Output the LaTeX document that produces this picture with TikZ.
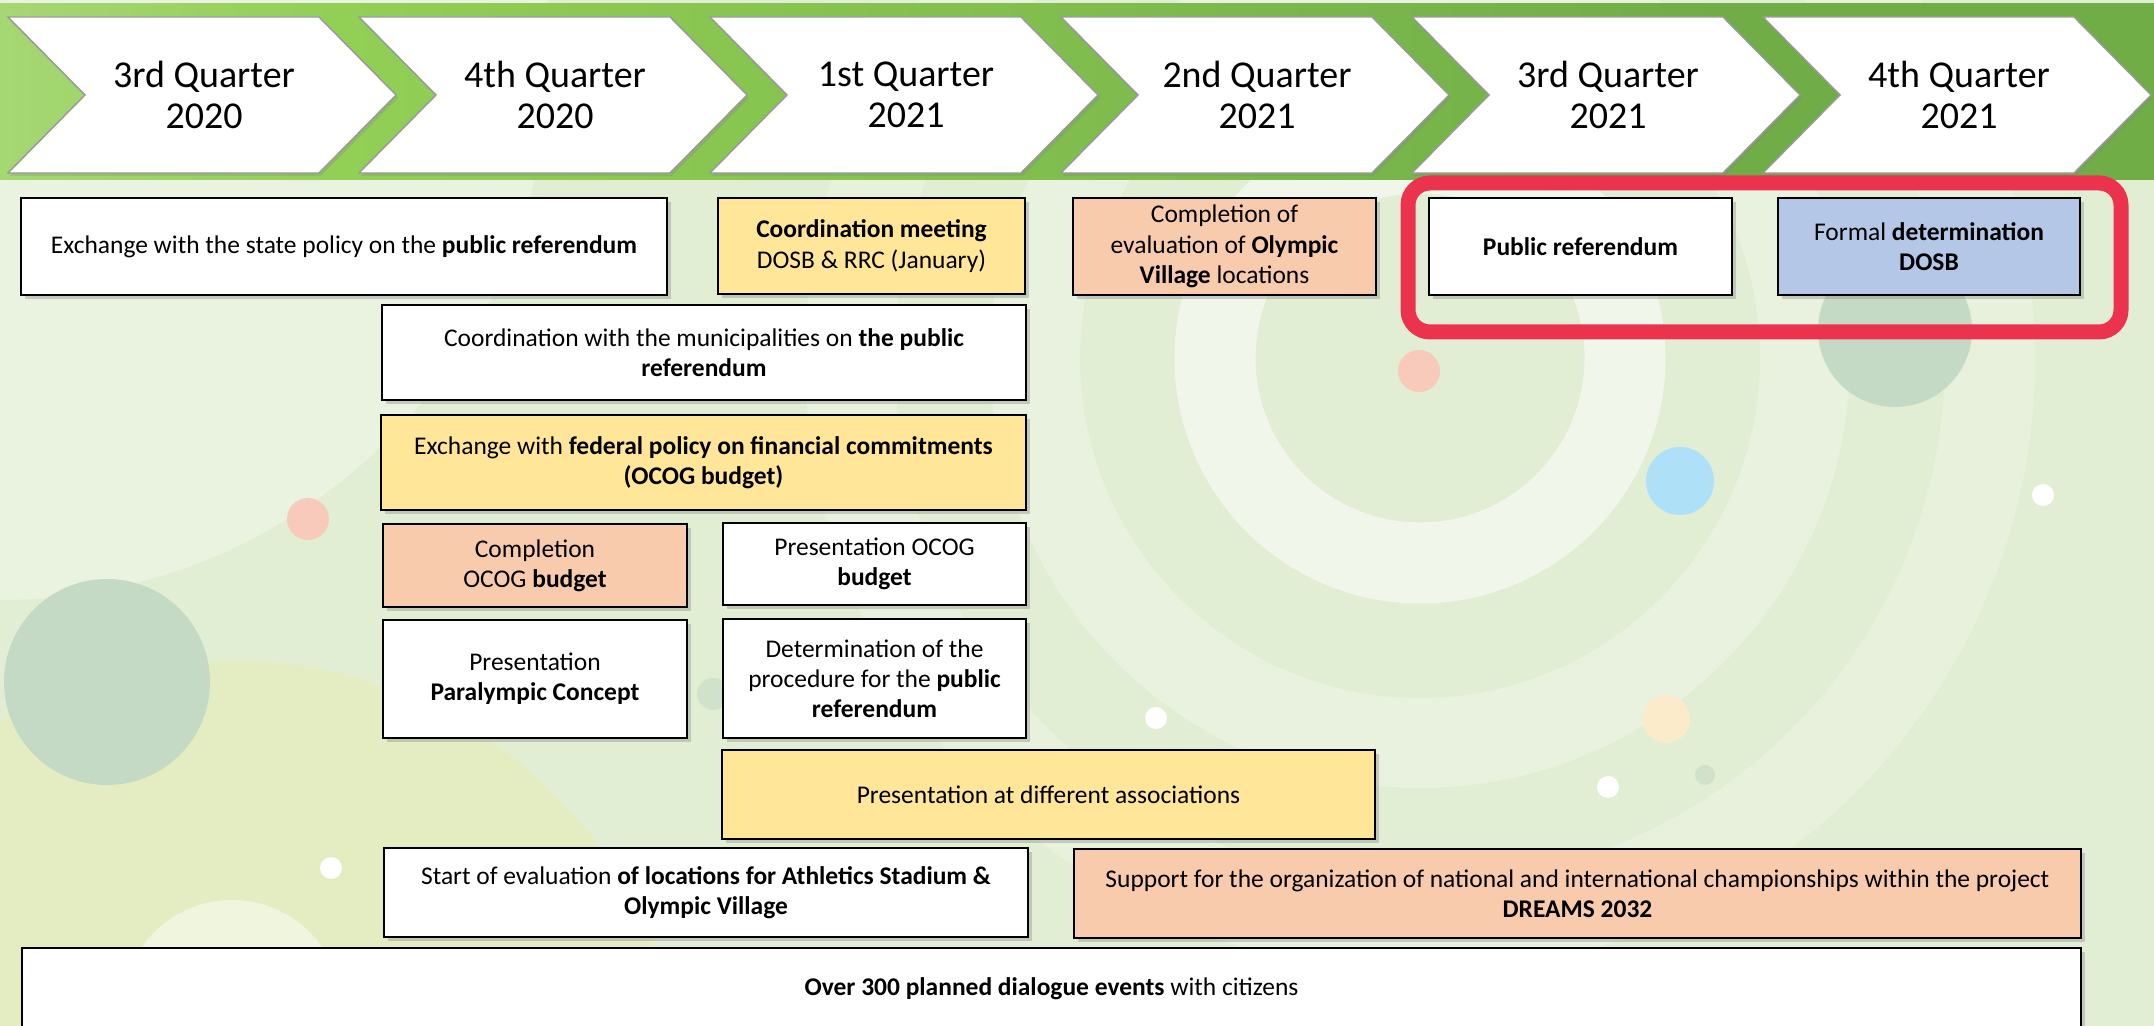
\documentclass[tikz,border=0pt]{standalone}
\usepackage{fontspec}
\setmainfont{Carlito}
\usetikzlibrary{shadows}

\definecolor{bgGreen}{HTML}{E1EED3}
\definecolor{bandA}{HTML}{F2F8EC}
\definecolor{bandB}{HTML}{BCE096}
\definecolor{bandC}{HTML}{91CF55}
\definecolor{bandD}{HTML}{70AD47}
\definecolor{evYellow}{HTML}{FFE699}
\definecolor{evSalmon}{HTML}{F8CBAD}
\definecolor{evBlue}{HTML}{B4C7E7}
\definecolor{frameRed}{RGB}{236,51,78}
\definecolor{dotPink}{HTML}{F7CABB}
\definecolor{dotBlue}{HTML}{AEE1F7}
\definecolor{dotPeach}{HTML}{FBEBCB}
\definecolor{dotGrey}{HTML}{C4DAC4}

\pgfdeclarehorizontalshading{bandshade}{100bp}{color(0bp)=(bandA); color(16bp)=(bandB); color(33bp)=(bandC); color(65bp)=(bandD); color(100bp)=(bandD)}

\begin{document}
\begin{tikzpicture}[
	evt/.style = {draw = black, line width = 0.8pt, align = center, inner sep = 0pt, outer sep = 0pt,
		font = \fontsize{7.25}{8.6}\selectfont,
		drop shadow = {shadow xshift = 0.04cm, shadow yshift = -0.04cm, opacity = 0.35}},
	evsize/.style 2 args = {minimum width = #1 cm, minimum height = #2 cm},
	quarter/.style = {align = center, font = \fontsize{10.8}{11.7}\selectfont},
	chev/.style = {fill = white, draw = gray!80, line width = 0.4pt,
		drop shadow = {shadow xshift = 0.02cm, shadow yshift = -0.03cm, opacity = 0.25}}
]

	% Background + decoration

	\useasboundingbox (0, 0) rectangle (21.54, -10.26);
	\clip (0, 0) rectangle (21.54, -10.26);
	\fill [bgGreen] (0, 0) rectangle (21.54, -10.26);
	\fill [white, opacity = 0.3] (0, -0.5) circle (5.5);
	\fill [yellow!25!bgGreen, opacity = 0.35] (2.3, -11.2) circle (4.6);
	\fill [white, opacity = 0.45] (2.32, -10.1) circle (1.1);

	\draw [white, opacity = 0.5, line width = 0.81cm] (14.2, -3.58) circle (2.05);
	\draw [white, opacity = 0.25, line width = 0.9cm] (14.2, -3.58) circle (3.85);
	\draw [white, opacity = 0.2, line width = 0.9cm] (14.2, -3.58) circle (5.7);

	\fill [dotGrey] (1.07, -6.82) circle (1.03);
	\fill [dotGrey] (18.95, -3.30) circle (0.77);
	\fill [dotPink] (14.19, -3.71) circle (0.21);
	\fill [dotPink] (3.08, -5.19) circle (0.21);
	\fill [dotBlue] (16.80, -4.81) circle (0.34);
	\fill [dotPeach] (16.66, -7.19) circle (0.24);
	\fill [dotGrey!60!bgGreen] (7.13, -6.94) circle (0.16);
	\fill [dotGrey!60!bgGreen] (17.05, -7.75) circle (0.1);

	\foreach \x/\y in {20.43/-4.95, 11.56/-7.18, 16.08/-7.87, 3.31/-8.68}
		\fill [white] (\x, \y) circle (0.11);

	% Quarter band

	\shade [shading = bandshade] (0, -0.04) rectangle (21.54, -1.80);

	\foreach \qt/\yr [count = \i] in {3rd/2020, 4th/2020, 1st/2021, 2nd/2021, 3rd/2021, 4th/2021} {
		\pgfmathsetmacro{\xl}{0.08 + 3.51 * (\i - 1)}
		\draw [chev] (\xl, -0.17) -- ++(3.11, 0) -- ++(0.77, -0.78) -- ++(-0.77, -0.78)
			-- ++(-3.11, 0) -- ++(0.77, 0.78) -- cycle;
		\node [quarter] (q\i) at (\xl + 1.96, -0.95) {\qt\ Quarter\\\yr};
	}

	% Highlight frame

	\draw [frameRed, line width = 0.15cm, rounded corners = 0.22cm] (14.08, -1.83) rectangle (21.21, -3.32);

	% Events

	\node [evt, fill = white, evsize = {6.46}{0.97}] (stateref) at (3.44, -2.465)
		{Exchange with the state policy on the \textbf{public referendum}};
	\node [evt, fill = evYellow, evsize = {3.07}{0.96}] (coordmeet) at (8.715, -2.46)
		{\textbf{Coordination meeting}\\DOSB \& RRC (January)};
	\node [evt, fill = evSalmon, evsize = {3.03}{0.97}] (villageeval) at (12.245, -2.465)
		{Completion of\\evaluation of \textbf{Olympic}\\\textbf{Village} locations};
	\node [evt, fill = white, evsize = {3.03}{0.97}] (publicref) at (15.805, -2.465)
		{\textbf{Public referendum}};
	\node [evt, fill = evBlue, evsize = {3.02}{0.97}] (formaldet) at (19.29, -2.465)
		{Formal \textbf{determination}\\\textbf{DOSB}};

	\node [evt, fill = white, evsize = {6.44}{0.95}] (municip) at (7.04, -3.525)
		{Coordination with the municipalities on \textbf{the public}\\\textbf{referendum}};
	\node [evt, fill = evYellow, evsize = {6.45}{0.95}] (fedpolicy) at (7.035, -4.625)
		{Exchange with \textbf{federal policy on financial commitments}\\\textbf{(OCOG budget)}};

	\node [evt, fill = evSalmon, evsize = {3.04}{0.83}] (ocogdone) at (5.35, -5.655)
		{Completion\\OCOG \textbf{budget}};
	\node [evt, fill = white, evsize = {3.03}{0.82}] (ocogpres) at (8.745, -5.64)
		{Presentation OCOG\\\textbf{budget}};
	\node [evt, fill = white, evsize = {3.04}{1.18}] (paraconcept) at (5.35, -6.79)
		{Presentation\\\textbf{Paralympic Concept}};
	\node [evt, fill = white, evsize = {3.03}{1.19}] (procedure) at (8.745, -6.785)
		{Determination of the\\procedure for the \textbf{public}\\\textbf{referendum}};

	\node [evt, fill = evYellow, evsize = {6.53}{0.89}] (assoc) at (10.485, -7.945)
		{Presentation at different associations};
	\node [evt, fill = white, evsize = {6.44}{0.89}] (locations) at (7.06, -8.925)
		{Start of evaluation \textbf{of locations for Athletics Stadium \&}\\\textbf{Olympic Village}};
	\node [evt, fill = evSalmon, evsize = {10.07}{0.89}] (dreams) at (15.775, -8.935)
		{Support for the organization of national and international championships within the project\\\textbf{DREAMS 2032}};
	\node [evt, fill = white, evsize = {20.59}{0.82}] (dialogue) at (10.515, -9.89)
		{\textbf{Over 300 planned dialogue events} with citizens};

\end{tikzpicture}
\end{document}
